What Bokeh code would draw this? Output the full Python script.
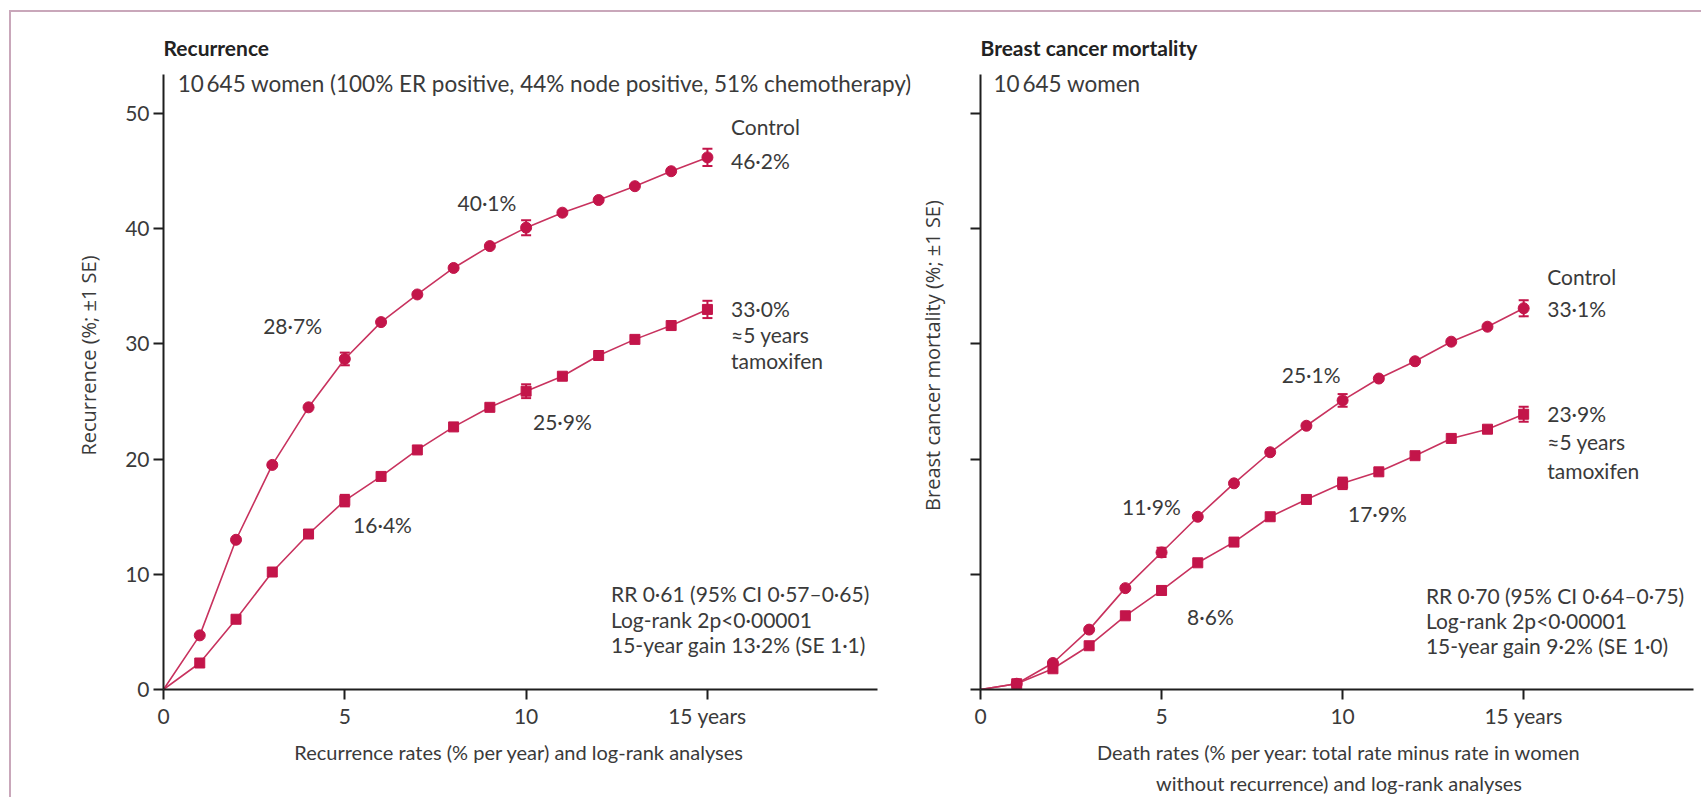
import numpy as np
from bokeh.plotting import figure
from bokeh.layouts import row
from bokeh.models import Label, Whisker, ColumnDataSource, FixedTicker, TeeHead
from bokeh.embed import file_html
from bokeh.resources import INLINE

# ---------------- data ----------------
years = list(range(0, 16))
rec_control = [0, 4.7, 13.0, 19.5, 24.5, 28.7, 31.9, 34.3, 36.6, 38.5, 40.1, 41.4, 42.5, 43.7, 45.0, 46.2]
rec_tamox = [0, 2.3, 6.1, 10.2, 13.5, 16.4, 18.5, 20.8, 22.8, 24.5, 25.9, 27.2, 29.0, 30.4, 31.6, 33.0]
mort_control = [0, 0.5, 2.3, 5.2, 8.8, 11.9, 15.0, 17.9, 20.6, 22.9, 25.1, 27.0, 28.5, 30.2, 31.5, 33.1]
mort_tamox = [0, 0.5, 1.8, 3.8, 6.4, 8.6, 11.0, 12.8, 15.0, 16.5, 17.9, 18.9, 20.3, 21.8, 22.6, 23.9]

se_years = [5, 10, 15]
rec_control_se = [0.55, 0.65, 0.75]
rec_tamox_se = [0.5, 0.6, 0.75]
mort_control_se = [0.4, 0.55, 0.7]
mort_tamox_se = [0.35, 0.5, 0.65]

x_ticks = [0, 5, 10, 15]
x_tick_labels = {15: "15 years"}
y_ticks = [0, 10, 20, 30, 40, 50]

rec_title = "Recurrence"
rec_subtitle = "10\u2009645 women (100% ER positive, 44% node positive, 51% chemotherapy)"
rec_ylabel = "Recurrence (%; \u00b11 SE)"
rec_xlabel = "Recurrence rates (% per year) and log-rank analyses"
rec_stats = ["RR 0\u00b761 (95% CI 0\u00b757\u20130\u00b765)", "Log-rank 2p<0\u00b700001",
             "15-year gain 13\u00b72% (SE 1\u00b71)"]

mort_title = "Breast cancer mortality"
mort_subtitle = "10\u2009645 women"
mort_ylabel = "Breast cancer mortality (%; \u00b11 SE)"
mort_xlabel = ("Death rates (% per year: total rate minus rate in women\n"
               "without recurrence) and log-rank analyses")
mort_stats = ["RR 0\u00b770 (95% CI 0\u00b764\u20130\u00b775)", "Log-rank 2p<0\u00b700001",
              "15-year gain 9\u00b72% (SE 1\u00b70)"]

# ---------------- style ----------------
RED = "#c3154a"
LINE_RED = "#c8325e"
TXT = "#3a3a3a"
AX = "#1e1e1e"
FONT = "Lato"
FS = "21px"
FRAME = "#c9a7ba"
PAD = "\u00a0" * 7   # trailing pad: shifts the centred left x-axis title a little to the left


def pct(v):
    return f"{v:.1f}".replace(".", "\u00b7") + "%"


def lab(p, x, y, text, align="left", size=FS, bold=False, color=TXT):
    p.add_layout(Label(x=x, y=y, text=text, text_align=align, text_baseline="middle",
                       text_font=FONT, text_font_size=size, text_color=color,
                       text_font_style="bold" if bold else "normal"))


def make_panel(width, border_left, border_right, x_end, show_ylabels, ylabel, xlabel, ylab_standoff):
    p = figure(width=width, height=797, x_range=(0, x_end), y_range=(0, 58),
               output_backend="svg", toolbar_location=None,
               min_border_left=border_left, min_border_right=border_right,
               min_border_top=21, min_border_bottom=103)
    p.border_fill_color = None
    p.background_fill_color = None
    p.outline_line_color = None
    p.grid.visible = False
    for ax in (p.xaxis[0], p.yaxis[0]):
        ax.axis_line_color = AX
        ax.axis_line_width = 2
        ax.major_tick_line_color = AX
        ax.major_tick_line_width = 2
        ax.major_tick_out = 10
        ax.major_tick_in = 0
        ax.minor_tick_line_color = None
        ax.major_label_text_font = FONT
        ax.major_label_text_font_size = FS
        ax.major_label_text_color = TXT
        ax.axis_label_text_color = TXT
        ax.axis_label_text_font_style = "normal"
    p.xaxis.ticker = FixedTicker(ticks=x_ticks)
    p.xaxis.major_label_overrides = x_tick_labels
    p.xaxis.bounds = (0, min(x_end, 19.7))
    p.xaxis.major_label_standoff = 3
    p.xaxis.axis_label = xlabel
    p.xaxis.axis_label_text_font = FONT
    p.xaxis.axis_label_text_font_size = "20px"
    p.xaxis.axis_label_text_line_height = 1.3
    p.xaxis.axis_label_standoff = 9
    p.yaxis.ticker = FixedTicker(ticks=y_ticks)
    p.yaxis.bounds = (0, 53.4)
    p.yaxis.major_label_standoff = 4
    p.yaxis.axis_label = ylabel
    p.yaxis.axis_label_text_font = "Open Sans"
    p.yaxis.axis_label_text_font_size = "20px"
    p.yaxis.axis_label_standoff = ylab_standoff
    if not show_ylabels:
        p.yaxis.major_label_overrides = {t: "" for t in y_ticks}
    return p


def draw_series(p, control, tamox, control_se, tamox_se):
    p.line(years, control, line_color=LINE_RED, line_width=1.6)
    p.line(years, tamox, line_color=LINE_RED, line_width=1.6)
    for vals, se in ((control, control_se), (tamox, tamox_se)):
        ys = [vals[y] for y in se_years]
        src = ColumnDataSource(dict(x=se_years, lower=[a - b for a, b in zip(ys, se)],
                                    upper=[a + b for a, b in zip(ys, se)]))
        p.add_layout(Whisker(source=src, base="x", lower="lower", upper="upper",
                             line_color=RED, line_width=2,
                             lower_head=TeeHead(size=10, line_color=RED, line_width=2),
                             upper_head=TeeHead(size=10, line_color=RED, line_width=2)))
    p.scatter(years[1:], tamox[1:], marker="square", size=10, color=RED)
    p.scatter(years[1:], control[1:], marker="circle", size=11, color=RED)


# ---------------- left panel ----------------
p1 = make_panel(912, 163, 2, 20.6, True, rec_ylabel, rec_xlabel + PAD, 20)
draw_series(p1, rec_control, rec_tamox, rec_control_se, rec_tamox_se)
lab(p1, 0, 55.75, rec_title, bold=True, color="#222222")
lab(p1, 0.39, 52.65, rec_subtitle, size="22.5px")
lab(p1, 15.65, 48.9, "Control")
lab(p1, 15.65, 45.95, pct(rec_control[15]))
lab(p1, 15.65, 33.1, pct(rec_tamox[15]))
lab(p1, 15.65, 30.85, "\u22485 years")
lab(p1, 15.65, 28.6, "tamoxifen")
lab(p1, 8.92, 42.3, pct(rec_control[10]), align="center")
lab(p1, 3.56, 31.6, pct(rec_control[5]), align="center")
lab(p1, 11.0, 23.3, pct(rec_tamox[10]), align="center")
lab(p1, 6.04, 14.3, pct(rec_tamox[5]), align="center")
for i, t in enumerate(rec_stats):
    lab(p1, 12.34, 8.3 - 2.2 * i, t)

# ---------------- right panel ----------------
p2 = make_panel(789, 68, 4, 19.8, False, mort_ylabel, mort_xlabel, 25)
draw_series(p2, mort_control, mort_tamox, mort_control_se, mort_tamox_se)
lab(p2, 0, 55.75, mort_title, bold=True, color="#222222")
lab(p2, 0.36, 52.65, mort_subtitle, size="22.5px")
lab(p2, 15.65, 35.85, "Control")
lab(p2, 15.65, 33.1, pct(mort_control[15]))
lab(p2, 15.65, 24.0, pct(mort_tamox[15]))
lab(p2, 15.65, 21.5, "\u22485 years")
lab(p2, 15.65, 19.0, "tamoxifen")
lab(p2, 9.13, 27.35, pct(mort_control[10]), align="center")
lab(p2, 4.72, 15.9, pct(mort_control[5]), align="center")
lab(p2, 10.96, 15.3, pct(mort_tamox[10]), align="center")
lab(p2, 6.35, 6.35, pct(mort_tamox[5]), align="center")
for i, t in enumerate(mort_stats):
    lab(p2, 12.3, 8.2 - 2.2 * i, t)

layout = row(p1, p2, styles={
    "background": f"linear-gradient({FRAME},{FRAME}) 9px 10px / 2px 100% no-repeat, "
                  f"linear-gradient({FRAME},{FRAME}) 9px 10px / 100% 2px no-repeat, #ffffff"})

open("out.html", "w").write(file_html(layout, INLINE))
